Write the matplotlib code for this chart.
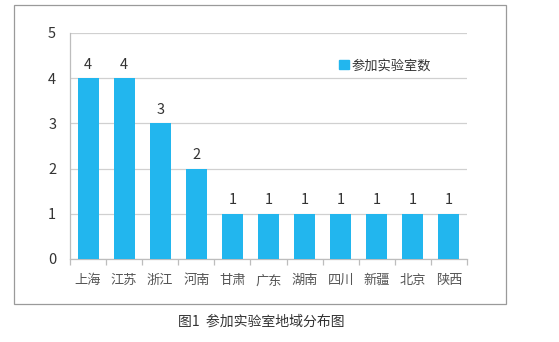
import matplotlib
matplotlib.use("Agg")
import matplotlib.pyplot as plt
from matplotlib.patches import Rectangle
import numpy as np

plt.rcParams['font.family'] = ['Noto Sans CJK SC', 'DejaVu Sans']

regions = ["上海", "江苏", "浙江", "河南", "甘肃", "广东", "湖南", "四川", "新疆", "北京", "陕西"]
lab_counts = [4, 4, 3, 2, 1, 1, 1, 1, 1, 1, 1]
series_name = "参加实验室数"
y_ticks = [0, 1, 2, 3, 4, 5]
caption = "图1  参加实验室地域分布图"

W, H = 559, 342
fig = plt.figure(figsize=(W / 100, H / 100), dpi=100)
fig.patch.set_facecolor("white")

# outer chart frame
fig.patches.append(Rectangle((14 / W, 1 - 304 / H), (506 - 14) / W, (304 - 5) / H,
                             transform=fig.transFigure, fill=False,
                             edgecolor="#9a9a9a", linewidth=0.9))

ax = fig.add_axes([70 / W, 1 - 259 / H, (467 - 70) / W, (259 - 33) / H])
bar_color = "#22B6EE"
x = np.arange(len(regions))
ax.bar(x, lab_counts, width=0.58, color=bar_color, zorder=3)

for xi, v in zip(x, lab_counts):
    ax.text(xi, v + 0.3, str(v), ha="center", va="center", fontsize=10.5,
            color="#333333", zorder=4)

ax.set_xlim(-0.5, len(regions) - 0.5)
ax.set_ylim(0, 5)
ax.set_yticks(y_ticks)
ax.set_yticklabels([str(t) for t in y_ticks], fontsize=10.5, color="#333333")
ax.yaxis.grid(True, color="#d0d0d0", linewidth=0.9, zorder=0)
ax.tick_params(axis="y", length=0, pad=10)

ax.set_xticks(x)
ax.set_xticklabels(regions, fontsize=9.5, color="#555555")
ax.tick_params(axis="x", length=0, pad=11)
ax.set_xticks(np.arange(-0.5, len(regions)), minor=True)
ax.tick_params(axis="x", which="minor", length=4, color="#bdbdbd", width=0.9)

for side in ["top", "right"]:
    ax.spines[side].set_visible(False)
ax.spines["left"].set_color("#bdbdbd")
ax.spines["bottom"].set_color("#bdbdbd")
ax.spines["left"].set_linewidth(0.9)
ax.spines["bottom"].set_linewidth(0.9)

leg = ax.legend([Rectangle((0, 0), 1, 1, color=bar_color)], [series_name],
                loc="center left", bbox_to_anchor=(0.665, 0.855), frameon=False,
                handlelength=0.7, handleheight=0.7, handletextpad=0.2,
                fontsize=9.5, borderaxespad=0)
for t in leg.get_texts():
    t.set_color("#333333")

fig.text(261 / W, 1 - 322 / H, caption, ha="center", va="center",
         fontsize=10, color="#333333")

fig.savefig("out.png", dpi=100, facecolor="white")
